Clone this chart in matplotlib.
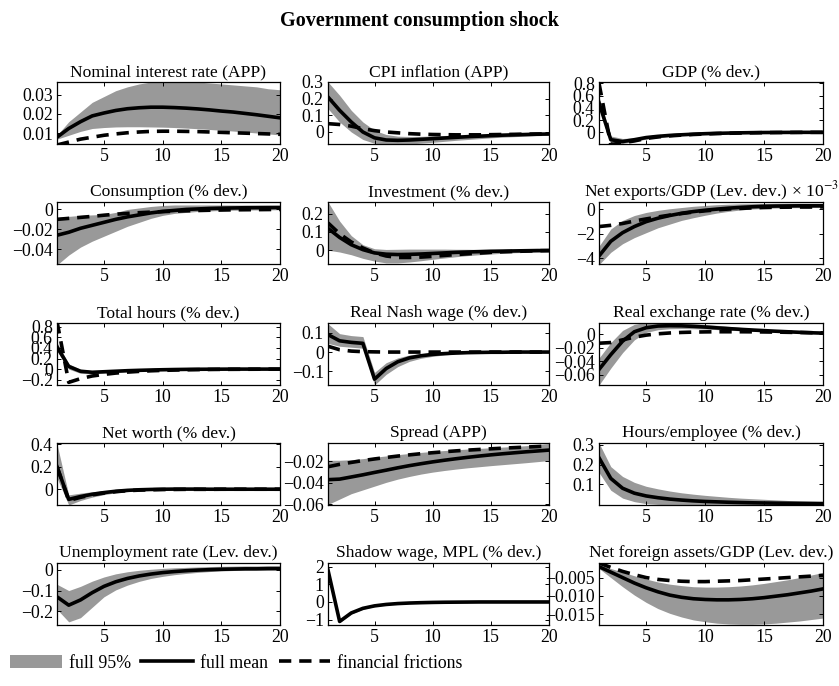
import numpy as np
import matplotlib
matplotlib.use("Agg")
import matplotlib.pyplot as plt
from matplotlib.patches import Patch
from matplotlib.lines import Line2D

plt.rcParams['font.family'] = ['Liberation Serif', 'DejaVu Serif']
plt.rcParams['mathtext.fontset'] = 'stix'
plt.rcParams['axes.unicode_minus'] = True

quarters = np.arange(1, 21)

# ---- data (mean, 95% band, financial frictions) ----
rate_mean = [0.008, 0.0125, 0.016, 0.019, 0.0205, 0.0218, 0.0227, 0.0232, 0.0235, 0.0235,
             0.0233, 0.023, 0.0226, 0.0221, 0.0215, 0.021, 0.0203, 0.0196, 0.0188, 0.018]
rate_hi = [0.009, 0.016, 0.021, 0.026, 0.029, 0.032, 0.034, 0.0355, 0.0365, 0.037,
           0.037, 0.037, 0.0365, 0.036, 0.0355, 0.035, 0.0345, 0.034, 0.033, 0.0325]
rate_lo = [0.007, 0.009, 0.011, 0.0125, 0.013, 0.0133, 0.0134, 0.0134, 0.0133, 0.0132,
           0.013, 0.0127, 0.0124, 0.012, 0.0116, 0.0112, 0.0107, 0.0102, 0.0097, 0.0092]
rate_ff = [0.004, 0.0055, 0.007, 0.008, 0.009, 0.0097, 0.0103, 0.0107, 0.011, 0.0111,
           0.0111, 0.011, 0.0109, 0.0107, 0.0105, 0.0103, 0.0101, 0.0099, 0.0097, 0.0095]

cpi_mean = [0.21, 0.13, 0.06, 0.0, -0.035, -0.048, -0.05, -0.048, -0.044, -0.04,
            -0.036, -0.032, -0.028, -0.025, -0.022, -0.019, -0.017, -0.015, -0.013, -0.012]
cpi_hi = [0.30, 0.22, 0.13, 0.06, 0.01, -0.015, -0.025, -0.027, -0.026, -0.024,
          -0.021, -0.019, -0.017, -0.015, -0.013, -0.011, -0.01, -0.009, -0.008, -0.007]
cpi_lo = [0.14, 0.06, 0.0, -0.045, -0.068, -0.075, -0.075, -0.072, -0.067, -0.062,
          -0.056, -0.05, -0.045, -0.04, -0.035, -0.031, -0.028, -0.025, -0.022, -0.02]
cpi_ff = [0.05, 0.045, 0.035, 0.02, 0.008, 0.0, -0.005, -0.01, -0.013, -0.015,
          -0.016, -0.017, -0.017, -0.017, -0.016, -0.015, -0.014, -0.013, -0.012, -0.011]

gdp_mean = [0.48, -0.12, -0.15, -0.12, -0.085, -0.065, -0.05, -0.04, -0.03, -0.022,
            -0.016, -0.012, -0.008, -0.005, -0.003, -0.002, -0.001, 0.0, 0.0, 0.0]
gdp_hi = [0.58, -0.06, -0.1, -0.09, -0.065, -0.05, -0.038, -0.029, -0.021, -0.014,
          -0.009, -0.005, -0.002, 0.0, 0.002, 0.003, 0.003, 0.004, 0.004, 0.004]
gdp_lo = [0.4, -0.17, -0.18, -0.15, -0.11, -0.085, -0.065, -0.052, -0.04, -0.031,
          -0.024, -0.018, -0.013, -0.01, -0.007, -0.005, -0.004, -0.003, -0.002, -0.002]
gdp_ff = [0.8, -0.2, -0.17, -0.14, -0.1, -0.075, -0.058, -0.045, -0.035, -0.027,
          -0.02, -0.015, -0.011, -0.008, -0.005, -0.003, -0.002, -0.001, 0.0, 0.0]

cons_mean = [-0.026, -0.023, -0.019, -0.016, -0.013, -0.01, -0.0075, -0.0055, -0.0035, -0.002,
             -0.001, 0.0, 0.0005, 0.001, 0.0013, 0.0015, 0.0017, 0.0018, 0.0019, 0.002]
cons_hi = [-0.008, -0.007, -0.006, -0.0055, -0.005, -0.003, 0.0, 0.0015, 0.003, 0.004,
           0.0045, 0.0045, 0.0045, 0.0045, 0.0045, 0.0045, 0.0044, 0.0043, 0.0042, 0.004]
cons_lo = [-0.056, -0.046, -0.038, -0.032, -0.027, -0.022, -0.017, -0.013, -0.009, -0.006,
           -0.004, -0.003, -0.002, -0.0015, -0.001, -0.0008, -0.0006, -0.0005, -0.0004, -0.0003]
cons_ff = [-0.01, -0.009, -0.008, -0.007, -0.0058, -0.0048, -0.004, -0.0033, -0.0027, -0.0022,
           -0.0018, -0.0014, -0.0011, -0.0008, -0.0006, -0.0004, -0.0003, -0.0002, -0.0001, 0.0]

inv_mean = [0.12, 0.07, 0.03, 0.003, -0.015, -0.022, -0.024, -0.023, -0.021, -0.018,
            -0.015, -0.012, -0.01, -0.008, -0.006, -0.005, -0.004, -0.003, -0.002, -0.002]
inv_hi = [0.265, 0.16, 0.08, 0.03, 0.008, 0.004, 0.005, 0.006, 0.006, 0.006,
          0.006, 0.005, 0.005, 0.004, 0.004, 0.003, 0.003, 0.003, 0.002, 0.002]
inv_lo = [0.0, -0.01, -0.025, -0.045, -0.06, -0.07, -0.07, -0.065, -0.058, -0.05,
          -0.043, -0.036, -0.03, -0.025, -0.021, -0.017, -0.014, -0.012, -0.01, -0.008]
inv_ff = [0.15, 0.09, 0.045, 0.012, -0.015, -0.032, -0.04, -0.04, -0.038, -0.034,
          -0.029, -0.024, -0.02, -0.016, -0.012, -0.009, -0.007, -0.005, -0.003, -0.002]

nx_mean = [-3.8, -2.6, -1.9, -1.4, -1.0, -0.72, -0.5, -0.32, -0.18, -0.07,
           0.02, 0.1, 0.16, 0.21, 0.25, 0.27, 0.28, 0.29, 0.29, 0.29]
nx_hi = [-3.0, -1.6, -0.9, -0.5, -0.25, -0.08, 0.05, 0.15, 0.25, 0.32,
         0.38, 0.42, 0.45, 0.47, 0.48, 0.49, 0.5, 0.5, 0.5, 0.5]
nx_lo = [-4.5, -3.5, -2.8, -2.3, -1.9, -1.5, -1.2, -0.9, -0.68, -0.48,
         -0.3, -0.16, -0.05, 0.03, 0.08, 0.11, 0.13, 0.14, 0.15, 0.15]
nx_ff = [-1.4, -1.3, -1.15, -0.95, -0.78, -0.62, -0.47, -0.34, -0.22, -0.12,
         -0.04, 0.03, 0.08, 0.12, 0.15, 0.17, 0.18, 0.19, 0.19, 0.2]

hours_mean = [0.42, 0.05, -0.04, -0.06, -0.05, -0.04, -0.03, -0.023, -0.017, -0.012,
              -0.008, -0.005, -0.003, -0.002, -0.001, 0.0, 0.0, 0.0, 0.0, 0.0]
hours_hi = [0.5, 0.1, -0.005, -0.03, -0.025, -0.02, -0.015, -0.01, -0.006, -0.003,
            -0.001, 0.001, 0.002, 0.003, 0.003, 0.003, 0.003, 0.003, 0.003, 0.003]
hours_lo = [0.34, 0.0, -0.08, -0.09, -0.075, -0.06, -0.047, -0.037, -0.028, -0.021,
            -0.015, -0.011, -0.008, -0.006, -0.004, -0.003, -0.002, -0.002, -0.001, -0.001]
hours_ff = [0.9, -0.25, -0.18, -0.13, -0.1, -0.075, -0.057, -0.043, -0.032, -0.024,
            -0.018, -0.013, -0.01, -0.007, -0.005, -0.004, -0.003, -0.002, -0.001, -0.001]

wage_mean = [0.09, 0.058, 0.05, 0.045, -0.14, -0.085, -0.05, -0.03, -0.019, -0.012,
             -0.008, -0.005, -0.003, -0.002, -0.001, -0.001, 0.0, 0.0, 0.0, 0.0]
wage_hi = [0.146, 0.095, 0.085, 0.08, -0.105, -0.055, -0.03, -0.015, -0.008, -0.004,
           -0.002, -0.001, 0.0, 0.0, 0.0, 0.0, 0.0, 0.0, 0.0, 0.0]
wage_lo = [0.045, 0.03, 0.025, 0.02, -0.17, -0.115, -0.075, -0.048, -0.032, -0.022,
           -0.015, -0.01, -0.007, -0.005, -0.004, -0.003, -0.002, -0.002, -0.001, -0.001]
wage_ff = [0.03, 0.012, 0.005, 0.002, 0.001, 0.0, 0.0, 0.0, 0.0, 0.0,
           0.0, 0.0, 0.0, 0.0, 0.0, 0.0, 0.0, 0.0, 0.0, 0.0]

rer_mean = [-0.052, -0.03, -0.01, 0.004, 0.01, 0.0125, 0.013, 0.0128, 0.012, 0.011,
            0.0098, 0.0087, 0.0076, 0.0066, 0.0057, 0.0048, 0.004, 0.0032, 0.0025, 0.002]
rer_hi = [-0.035, -0.012, 0.006, 0.015, 0.018, 0.018, 0.018, 0.017, 0.016, 0.015,
          0.0135, 0.012, 0.0105, 0.009, 0.0078, 0.0066, 0.0055, 0.0045, 0.0037, 0.003]
rer_lo = [-0.075, -0.05, -0.027, -0.008, 0.003, 0.007, 0.0085, 0.0088, 0.0085, 0.008,
          0.0072, 0.0063, 0.0055, 0.0047, 0.004, 0.0033, 0.0026, 0.002, 0.0015, 0.001]
rer_ff = [-0.013, -0.012, -0.008, -0.004, -0.001, 0.001, 0.0022, 0.003, 0.0035, 0.0038,
          0.004, 0.004, 0.004, 0.0039, 0.0037, 0.0035, 0.0032, 0.0029, 0.0026, 0.0023]

nw_mean = [0.2, -0.09, -0.065, -0.045, -0.03, -0.018, -0.01, -0.005, -0.002, 0.0,
           0.001, 0.001, 0.001, 0.0, 0.0, 0.0, 0.0, 0.0, 0.0, 0.0]
nw_hi = [0.4, -0.05, -0.035, -0.022, -0.012, -0.004, 0.002, 0.005, 0.006, 0.006,
         0.005, 0.004, 0.003, 0.003, 0.002, 0.002, 0.001, 0.001, 0.001, 0.001]
nw_lo = [0.1, -0.14, -0.1, -0.07, -0.048, -0.032, -0.021, -0.014, -0.009, -0.006,
         -0.004, -0.003, -0.002, -0.002, -0.001, -0.001, -0.001, -0.001, -0.001, -0.001]
nw_ff = [0.2, -0.1, -0.072, -0.05, -0.034, -0.022, -0.013, -0.008, -0.005, -0.003,
         -0.002, -0.001, -0.001, -0.001, 0.0, 0.0, 0.0, 0.0, 0.0, 0.0]

spr_mean = [-0.037, -0.0365, -0.0345, -0.0325, -0.0303, -0.0282, -0.026, -0.024, -0.0222, -0.0205,
            -0.019, -0.0176, -0.0163, -0.0151, -0.014, -0.013, -0.0121, -0.0112, -0.0104, -0.0096]
spr_hi = [-0.019, -0.019, -0.0185, -0.0175, -0.0162, -0.015, -0.0138, -0.0127, -0.0117, -0.0108,
          -0.01, -0.0093, -0.0086, -0.008, -0.0074, -0.0068, -0.0062, -0.0055, -0.0045, -0.0035]
spr_lo = [-0.06, -0.055, -0.05, -0.0465, -0.043, -0.0395, -0.0365, -0.034, -0.0318, -0.03,
          -0.0285, -0.0272, -0.026, -0.025, -0.024, -0.0231, -0.0222, -0.0213, -0.0203, -0.0193]
spr_ff = [-0.025, -0.0228, -0.021, -0.0193, -0.0178, -0.0164, -0.0151, -0.014, -0.0129, -0.012,
          -0.0111, -0.0103, -0.0096, -0.009, -0.0084, -0.0078, -0.0073, -0.0068, -0.0063, -0.0058]

hpe_mean = [0.235, 0.13, 0.08, 0.055, 0.041, 0.032, 0.025, 0.02, 0.016, 0.013,
            0.011, 0.009, 0.0075, 0.0062, 0.0052, 0.0044, 0.0038, 0.0032, 0.0028, 0.0025]
hpe_hi = [0.31, 0.19, 0.14, 0.11, 0.09, 0.077, 0.066, 0.057, 0.05, 0.044,
          0.039, 0.034, 0.03, 0.027, 0.024, 0.021, 0.018, 0.016, 0.014, 0.012]
hpe_lo = [0.16, 0.07, 0.03, 0.012, 0.002, -0.002, -0.004, -0.005, -0.005, -0.005,
          -0.005, -0.005, -0.005, -0.005, -0.005, -0.005, -0.005, -0.005, -0.005, -0.005]

unemp_mean = [-0.13, -0.17, -0.145, -0.11, -0.08, -0.058, -0.042, -0.03, -0.021, -0.014,
              -0.009, -0.005, -0.002, 0.0, 0.002, 0.003, 0.004, 0.004, 0.005, 0.005]
unemp_hi = [-0.07, -0.1, -0.08, -0.055, -0.035, -0.02, -0.01, -0.003, 0.002, 0.006,
            0.009, 0.011, 0.013, 0.015, 0.016, 0.017, 0.018, 0.018, 0.019, 0.019]
unemp_lo = [-0.19, -0.25, -0.23, -0.18, -0.13, -0.097, -0.074, -0.056, -0.042, -0.032,
            -0.024, -0.018, -0.013, -0.009, -0.006, -0.004, -0.002, -0.001, -0.001, 0.0]

shadow_mean = [1.8, -1.1, -0.62, -0.36, -0.22, -0.14, -0.09, -0.06, -0.04, -0.025,
               -0.015, -0.01, -0.005, 0.0, 0.0, 0.0, 0.0, 0.0, 0.0, 0.0]
shadow_hi = [1.87, -1.03, -0.56, -0.31, -0.18, -0.11, -0.065, -0.04, -0.025, -0.013,
             -0.006, -0.003, 0.0, 0.004, 0.004, 0.004, 0.004, 0.004, 0.004, 0.004]
shadow_lo = [1.73, -1.17, -0.68, -0.41, -0.26, -0.17, -0.115, -0.08, -0.055, -0.037,
             -0.024, -0.017, -0.01, -0.004, -0.004, -0.004, -0.004, -0.004, -0.004, -0.004]

nfa_mean = [-0.002, -0.0035, -0.005, -0.0065, -0.0078, -0.0089, -0.0098, -0.0104, -0.0108, -0.011,
            -0.0111, -0.0111, -0.011, -0.0108, -0.0105, -0.0101, -0.0097, -0.0092, -0.0087, -0.0081]
nfa_hi = [-0.0015, -0.0025, -0.0035, -0.0045, -0.0054, -0.0062, -0.0068, -0.0072, -0.0075, -0.0076,
          -0.0076, -0.0075, -0.0073, -0.007, -0.0066, -0.0061, -0.0056, -0.005, -0.0043, -0.0036]
nfa_lo = [-0.0025, -0.005, -0.0075, -0.0098, -0.0118, -0.0135, -0.0148, -0.0158, -0.0166, -0.0171,
          -0.0175, -0.0177, -0.0178, -0.0178, -0.0177, -0.0175, -0.0172, -0.0169, -0.0165, -0.0161]
nfa_ff = [-0.001, -0.0022, -0.0033, -0.0042, -0.005, -0.0055, -0.0058, -0.006, -0.0061, -0.0061,
          -0.006, -0.0059, -0.0058, -0.0056, -0.0054, -0.0052, -0.005, -0.0048, -0.0046, -0.0044]

titles = ['Nominal interest rate (APP)', 'CPI inflation (APP)', 'GDP (% dev.)',
          'Consumption (% dev.)', 'Investment (% dev.)',
          'Net exports/GDP (Lev. dev.) × 10$^{-3}$',
          'Total hours (% dev.)', 'Real Nash wage (% dev.)', 'Real exchange rate (% dev.)',
          'Net worth (% dev.)', 'Spread (APP)', 'Hours/employee (% dev.)',
          'Unemployment rate (Lev. dev.)', 'Shadow wage, MPL (% dev.)', 'Net foreign assets/GDP (Lev. dev.)']

ytick_vals = [[0.01, 0.02, 0.03], [0, 0.1, 0.2, 0.3], [0, 0.2, 0.4, 0.6, 0.8],
              [-0.04, -0.02, 0], [0, 0.1, 0.2], [-4, -2, 0],
              [-0.2, 0, 0.2, 0.4, 0.6, 0.8], [-0.1, 0, 0.1], [-0.06, -0.04, -0.02, 0],
              [0, 0.2, 0.4], [-0.06, -0.04, -0.02], [0.1, 0.2, 0.3],
              [-0.2, -0.1, 0], [-1, 0, 1, 2], [-0.015, -0.010, -0.005]]
ytick_labels = [['0.01', '0.02', '0.03'], ['0', '0.1', '0.2', '0.3'], ['0', '0.2', '0.4', '0.6', '0.8'],
                ['−0.04', '−0.02', '0'], ['0', '0.1', '0.2'], ['−4', '−2', '0'],
                ['−0.2', '0', '0.2', '0.4', '0.6', '0.8'], ['−0.1', '0', '0.1'],
                ['−0.06', '−0.04', '−0.02', '0'],
                ['0', '0.2', '0.4'], ['−0.06', '−0.04', '−0.02'], ['0.1', '0.2', '0.3'],
                ['−0.2', '−0.1', '0'], ['−1', '0', '1', '2'], ['−0.015', '−0.010', '−0.005']]
ylims = [(0.0045, 0.0365), (-0.072, 0.3), (-0.19, 0.82),
         (-0.055, 0.0075), (-0.076, 0.265), (-4.45, 0.6),
         (-0.3, 0.87), (-0.17, 0.15), (-0.075, 0.017),
         (-0.14, 0.41), (-0.0605, -0.003), (-0.005, 0.31),
         (-0.265, 0.032), (-1.3, 2.2), (-0.018, -0.001)]

means = [rate_mean, cpi_mean, gdp_mean, cons_mean, inv_mean, nx_mean, hours_mean, wage_mean,
         rer_mean, nw_mean, spr_mean, hpe_mean, unemp_mean, shadow_mean, nfa_mean]
highs = [rate_hi, cpi_hi, gdp_hi, cons_hi, inv_hi, nx_hi, hours_hi, wage_hi,
         rer_hi, nw_hi, spr_hi, hpe_hi, unemp_hi, shadow_hi, nfa_hi]
lows = [rate_lo, cpi_lo, gdp_lo, cons_lo, inv_lo, nx_lo, hours_lo, wage_lo,
        rer_lo, nw_lo, spr_lo, hpe_lo, unemp_lo, shadow_lo, nfa_lo]
frictions = [rate_ff, cpi_ff, gdp_ff, cons_ff, inv_ff, nx_ff, hours_ff, wage_ff,
             rer_ff, nw_ff, spr_ff, None, None, None, nfa_ff]

W, H = 839, 686
fig = plt.figure(figsize=(W / 100, H / 100), dpi=100)

col_left = [57, 328, 599]
col_width = [223, 221, 224]
row_top = [82, 202, 323, 443, 563]
ax_h = 62

band_color = '#999999'
dash_style = (0, (3.4, 2.2))

for i in range(15):
    r, c = divmod(i, 3)
    ax = fig.add_axes([col_left[c] / W, 1 - (row_top[r] + ax_h) / H, col_width[c] / W, ax_h / H])
    ax.fill_between(quarters, lows[i], highs[i], color=band_color, linewidth=0)
    if frictions[i] is not None:
        ax.plot(quarters, frictions[i], color='black', lw=2.6, linestyle=dash_style)
    ax.plot(quarters, means[i], color='black', lw=2.6)
    ax.set_xlim(1, 20)
    ax.set_ylim(*ylims[i])
    ax.set_xticks([5, 10, 15, 20])
    ax.set_yticks(ytick_vals[i])
    ax.set_yticklabels(ytick_labels[i])
    ax.tick_params(direction='in', top=True, right=True, labelsize=12.8, pad=3, length=3, width=0.7)
    for sp in ax.spines.values():
        sp.set_linewidth(0.9)
    ax.set_title(titles[i], fontsize=12.6, pad=4)

fig.text(0.5, 1 - 21 / H, 'Government consumption shock', ha='center', va='center',
         fontsize=14.5, fontweight='bold')

handles = [Patch(facecolor=band_color, edgecolor='none'),
           Line2D([], [], color='black', lw=2.6),
           Line2D([], [], color='black', lw=2.6, linestyle=dash_style)]
fig.legend(handles, ['full 95%', 'full mean', 'financial frictions'], ncol=3,
           loc='center left', bbox_to_anchor=(10 / W, 1 - 663 / H), frameon=False,
           fontsize=12.8, handlelength=2.9, handletextpad=0.4, columnspacing=0.6,
           borderaxespad=0, borderpad=0)

fig.savefig('out.png', dpi=100)
